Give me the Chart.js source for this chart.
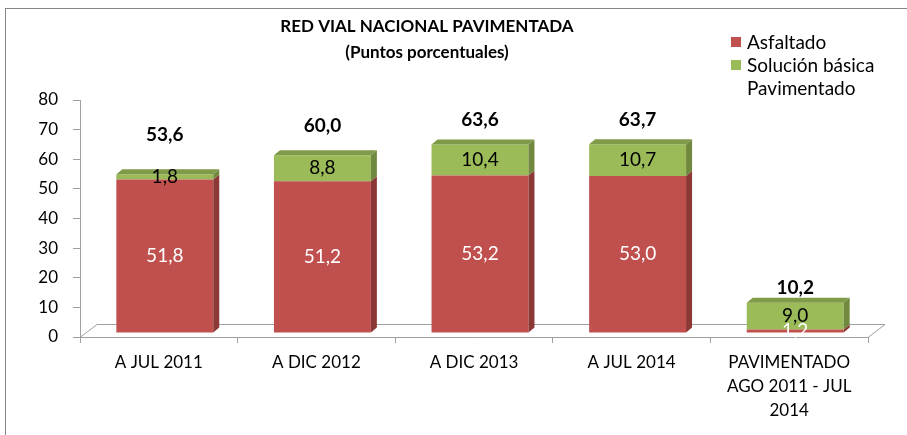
<!DOCTYPE html>
<html>
<head>
<meta charset="utf-8">
<script src="https://cdn.jsdelivr.net/npm/chart.js@4"></script>
<style>
  html, body { margin: 0; padding: 0; background: #fff; }
  canvas { display: block; }
</style>
</head>
<body>
<canvas id="redVialChart" width="907" height="435"></canvas>
<script>
const categories = ['A JUL 2011', 'A DIC 2012', 'A DIC 2013', 'A JUL 2014', ['PAVIMENTADO', 'AGO 2011 - JUL', '2014']];
const asfaltado = [51.8, 51.2, 53.2, 53.0, 1.2];
const solucionBasica = [1.8, 8.8, 10.4, 10.7, 9.0];
const pavimentado = [53.6, 60.0, 63.6, 63.7, 10.2];
const yMin = 0, yMax = 80, yStep = 10;

const titleLines = ['RED VIAL NACIONAL PAVIMENTADA', '(Puntos porcentuales)'];
const FONT = 'Lato, "Open Sans", sans-serif';
const AXIS_GRAY = '#a0a0a0';

// fake excel 3d: bars sit a bit back on the floor
const SHIFT_X = 6, SHIFT_Y = -4;
const DEPTH_X = 6, DEPTH_Y = 5;

const fmt = v => v.toFixed(1).replace('.', ',');

const excel3d = {
    id: 'excel3d',
    beforeDraw(chart) {
        const ctx = chart.ctx;
        ctx.save();
        ctx.fillStyle = '#fff';
        ctx.fillRect(0, 0, chart.width, chart.height);
        ctx.strokeStyle = '#868686';
        ctx.lineWidth = 1;
        ctx.strokeRect(5.5, 8.5, chart.width + 20, chart.height + 20);

        // floor
        const a = chart.chartArea;
        const fx = 17, fy = 13;
        ctx.strokeStyle = AXIS_GRAY;
        ctx.beginPath();
        ctx.moveTo(a.left, a.bottom + 0.5);
        ctx.lineTo(a.left + fx, a.bottom - fy + 0.5);
        ctx.lineTo(a.right + fx, a.bottom - fy + 0.5);
        ctx.lineTo(a.right, a.bottom + 0.5);
        ctx.stroke();
        ctx.restore();
    },
    beforeDatasetsDraw(chart) {
        chart.ctx.save();
        chart.ctx.translate(SHIFT_X, SHIFT_Y);
    },
    afterDatasetsDraw(chart) {
        const ctx = chart.ctx;
        ctx.restore();
        const a = chart.chartArea;
        const sets = chart.data.datasets;

        // side and top faces
        for (let i = 0; i < categories.length; i++) {
            let topDs = -1;
            sets.forEach((ds, d) => { if (ds.side && ds.data[i] > 0) topDs = d; });
            sets.forEach((ds, d) => {
                if (!ds.side) return;
                const el = chart.getDatasetMeta(d).data[i];
                const x0 = el.x - el.width / 2 + SHIFT_X;
                const x1 = el.x + el.width / 2 + SHIFT_X;
                const yT = Math.min(el.y, el.base) + SHIFT_Y;
                const yB = Math.max(el.y, el.base) + SHIFT_Y;
                ctx.fillStyle = ds.side;
                ctx.beginPath();
                ctx.moveTo(x1, yT);
                ctx.lineTo(x1 + DEPTH_X, yT - DEPTH_Y);
                ctx.lineTo(x1 + DEPTH_X, yB - DEPTH_Y);
                ctx.lineTo(x1, yB);
                ctx.closePath();
                ctx.fill();
                if (d === topDs) {
                    ctx.fillStyle = ds.top;
                    ctx.beginPath();
                    ctx.moveTo(x0, yT);
                    ctx.lineTo(x0 + DEPTH_X, yT - DEPTH_Y);
                    ctx.lineTo(x1 + DEPTH_X, yT - DEPTH_Y);
                    ctx.lineTo(x1, yT);
                    ctx.closePath();
                    ctx.fill();
                }
            });
        }

        // data labels
        ctx.save();
        ctx.textAlign = 'center';
        ctx.textBaseline = 'middle';
        sets.forEach((ds, d) => {
            const meta = chart.getDatasetMeta(d);
            meta.data.forEach((el, i) => {
                const x = el.x + SHIFT_X;
                let y;
                if (ds.side) {
                    y = (el.y + el.base) / 2 + SHIFT_Y;
                    ctx.font = '19px ' + FONT;
                } else {
                    // invisible total series, label sits in middle of its visible (clipped) part
                    y = (Math.max(el.y, a.top) + el.base) / 2 + SHIFT_Y;
                    ctx.font = 'bold 19px ' + FONT;
                }
                ctx.fillStyle = ds.labelColor;
                ctx.fillText(fmt(ds.data[i]), x, y);
            });
        });
        ctx.restore();
    },
    afterDraw(chart) {
        const ctx = chart.ctx;
        ctx.save();
        ctx.fillStyle = '#000';
        ctx.textAlign = 'center';
        ctx.textBaseline = 'middle';
        ctx.font = 'bold 17px ' + FONT;
        ctx.fillText(titleLines[0], 427, 27);
        ctx.fillText(titleLines[1], 427, 53);

        // legend
        ctx.textAlign = 'left';
        ctx.font = '19px ' + FONT;
        chart.data.datasets.forEach((ds, d) => {
            const y = 43 + d * 23;
            if (ds.side) {
                ctx.fillStyle = ds.backgroundColor;
                ctx.fillRect(731, y - 6, 10, 10);
            }
            ctx.fillStyle = '#000';
            ctx.fillText(ds.label, 747, y);
        });
        ctx.restore();
    }
};

new Chart(document.getElementById('redVialChart'), {
    type: 'bar',
    data: {
        labels: categories,
        datasets: [
            { label: 'Asfaltado', data: asfaltado, backgroundColor: '#c0504d', side: '#8c3836', top: '#a84542', labelColor: '#fff' },
            { label: 'Solución básica', data: solucionBasica, backgroundColor: '#9bbb59', side: '#71893f', top: '#7f9a48', labelColor: '#000' },
            { label: 'Pavimentado', data: pavimentado, backgroundColor: 'rgba(0,0,0,0)', labelColor: '#000' }
        ]
    },
    options: {
        responsive: false,
        animation: false,
        devicePixelRatio: 1,
        categoryPercentage: 1,
        barPercentage: 0.615,
        layout: { padding: { top: 100, right: 39, bottom: 0, left: 0 } },
        plugins: {
            legend: { display: false },
            title: { display: false },
            tooltip: { enabled: false }
        },
        scales: {
            x: {
                stacked: true,
                afterFit: s => { s.height = 98; },
                border: { display: true, color: AXIS_GRAY },
                grid: { drawOnChartArea: false, drawTicks: true, tickLength: 6, color: AXIS_GRAY, offset: true },
                ticks: { color: '#000', font: { family: FONT, size: 17, lineHeight: 1.4 }, padding: 8, maxRotation: 0, autoSkip: false }
            },
            y: {
                stacked: true,
                min: yMin,
                max: yMax,
                afterFit: s => { s.width = 80; },
                border: { display: true, color: AXIS_GRAY },
                grid: { drawOnChartArea: false, drawTicks: true, tickLength: 7, color: AXIS_GRAY },
                ticks: { stepSize: yStep, color: '#000', font: { family: FONT, size: 17 }, padding: 15 }
            }
        }
    },
    plugins: [excel3d]
});
</script>
</body>
</html>
